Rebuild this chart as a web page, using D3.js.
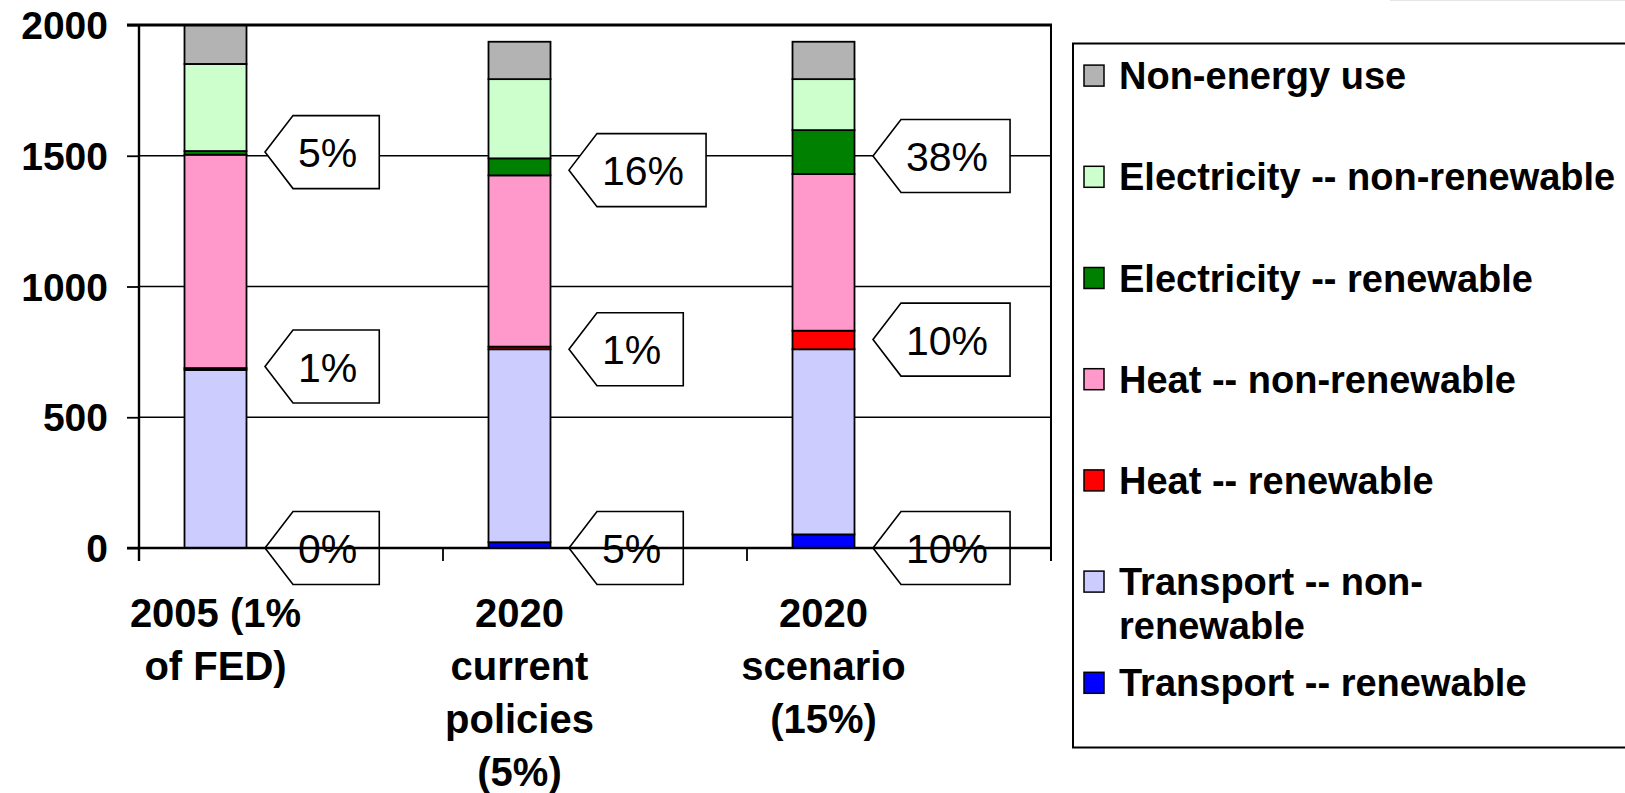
<!DOCTYPE html>
<html>
<head>
<meta charset="utf-8">
<script src="https://cdnjs.cloudflare.com/ajax/libs/d3/7.8.5/d3.min.js"></script>
<style>
body { margin: 0; background: #fff; }
text { font-family: "Liberation Sans", Arial, sans-serif; }
</style>
</head>
<body>
<div id="chart"></div>
<script>
// Data
var categories = ["2005 (1% of FED)", "2020 current policies (5%)", "2020 scenario (15%)"];
var categoryLines = [["2005 (1%", "of FED)"], ["2020", "current", "policies", "(5%)"], ["2020", "scenario", "(15%)"]];

var transportRen    = [0, 22, 52];
var transportNonRen = [681, 738, 708];
var heatRen         = [7, 10, 71];
var heatNonRen      = [816, 655, 599];
var elecRen         = [14, 65, 168];
var elecNonRen      = [333, 303, 195];
var nonEnergy       = [149, 143, 143];

var yTicks = [0, 500, 1000, 1500, 2000];

// renewable share callouts: transport, heat, electricity
var shareLabels = [["0%", "1%", "5%"], ["5%", "1%", "16%"], ["10%", "10%", "38%"]];
var shareAt     = [[0, 694, 1514], [0, 760, 1445], [0, 797, 1499]];

// series, bottom to top of the stack
var series = [
    {key: "tr",  name: "Transport -- renewable",     values: transportRen,    color: "#0000ff"},
    {key: "tnr", name: "Transport -- non-renewable", values: transportNonRen, color: "#ccccff"},
    {key: "hr",  name: "Heat -- renewable",          values: heatRen,         color: "#ff0000"},
    {key: "hnr", name: "Heat -- non-renewable",      values: heatNonRen,      color: "#ff99cc"},
    {key: "er",  name: "Electricity -- renewable",   values: elecRen,         color: "#008000"},
    {key: "enr", name: "Electricity -- non-renewable", values: elecNonRen,    color: "#ccffcc"},
    {key: "ne",  name: "Non-energy use",             values: nonEnergy,       color: "#b3b3b3"}
];

var width = 1625, height = 793;

var svg = d3.select("#chart").append("svg")
    .attr("width", width)
    .attr("height", height);

// table for d3.stack
var table = categories.map(function(c, i) {
    var row = {cat: c};
    series.forEach(function(s) { row[s.key] = s.values[i]; });
    return row;
});
var stacked = d3.stack().keys(series.map(function(s) { return s.key; }))(table);

var x = d3.scaleBand().domain(categories).range([139, 1051]).padding(0);
var y = d3.scaleLinear().domain([0, 2000]).range([548, 25]);

var barOffset = 45.5, barWidth = 62;

// gridlines
svg.append("g").selectAll("line")
    .data(yTicks.filter(function(d) { return d > 0 && d < 2000; }))
    .enter().append("line")
    .attr("x1", 139).attr("x2", 1051)
    .attr("y1", function(d) { return y(d); })
    .attr("y2", function(d) { return y(d); })
    .attr("stroke", "#000").attr("stroke-width", 1.6);

// bars
svg.append("g").selectAll("g")
    .data(stacked)
    .enter().append("g")
    .attr("fill", function(d, i) { return series[i].color; })
    .selectAll("rect")
    .data(function(d) { return d; })
    .enter().append("rect")
    .attr("x", function(d) { return x(d.data.cat) + barOffset; })
    .attr("width", barWidth)
    .attr("y", function(d) { return y(d[1]); })
    .attr("height", function(d) { return y(d[0]) - y(d[1]); })
    .attr("stroke", "#000")
    .attr("stroke-width", 1.8);

// callouts
var callouts = [];
categories.forEach(function(c, i) {
    shareLabels[i].forEach(function(lab, j) {
        callouts.push({cat: c, label: lab, value: shareAt[i][j]});
    });
});

var cg = svg.append("g").selectAll("g")
    .data(callouts)
    .enter().append("g");

cg.each(function(d) {
    var g = d3.select(this);
    var px = x(d.cat) + 126, py = y(d.value);
    var path = g.append("path");
    var t = g.append("text")
        .attr("x", px + 33)
        .attr("y", py + 15)
        .attr("font-size", 41)
        .attr("fill", "#000")
        .text(d.label);
    var w = t.node().getComputedTextLength();
    var r = px + 33 + w + 22, h = 36.5, dep = 28;
    path.attr("d", "M" + px + "," + py + "L" + (px + dep) + "," + (py - h) +
              "L" + r + "," + (py - h) + "L" + r + "," + (py + h) +
              "L" + (px + dep) + "," + (py + h) + "Z")
        .attr("fill", "#fff").attr("stroke", "#000").attr("stroke-width", 1.6);
});

// axes and plot border
svg.append("line").attr("x1", 127).attr("x2", 1052).attr("y1", y(2000)).attr("y2", y(2000))
    .attr("stroke", "#000").attr("stroke-width", 3);
svg.append("line").attr("x1", 1051).attr("x2", 1051).attr("y1", y(2000)).attr("y2", 561)
    .attr("stroke", "#000").attr("stroke-width", 2);

var yAxis = svg.append("g")
    .attr("transform", "translate(139,0)")
    .call(d3.axisLeft(y).tickValues(yTicks).tickSize(12).tickFormat(""));
yAxis.select(".domain").remove();
yAxis.selectAll("line").attr("stroke", "#000").attr("stroke-width", 1.8);

svg.append("line").attr("x1", 139).attr("x2", 139).attr("y1", y(2000)).attr("y2", 561)
    .attr("stroke", "#000").attr("stroke-width", 2.4);
svg.append("line").attr("x1", 127).attr("x2", 1051).attr("y1", y(0)).attr("y2", y(0))
    .attr("stroke", "#000").attr("stroke-width", 2.4);

// category ticks below the axis
var bounds = categories.map(function(c) { return x(c); }).concat([x.range()[1]]);
svg.append("g").selectAll("line")
    .data(bounds)
    .enter().append("line")
    .attr("x1", function(d) { return d; }).attr("x2", function(d) { return d; })
    .attr("y1", y(0)).attr("y2", 561)
    .attr("stroke", "#000").attr("stroke-width", 1.8);

// y tick labels
svg.append("g").selectAll("text")
    .data(yTicks)
    .enter().append("text")
    .attr("x", 108)
    .attr("y", function(d) { return y(d) + 14; })
    .attr("text-anchor", "end")
    .attr("font-size", 39)
    .attr("font-weight", "bold")
    .text(function(d) { return d; });

// category labels
svg.append("g").selectAll("text")
    .data(categories)
    .enter().append("text")
    .attr("text-anchor", "middle")
    .attr("font-size", 40)
    .attr("font-weight", "bold")
    .each(function(c, i) {
        var cx = x(c) + barOffset + barWidth / 2;
        d3.select(this).selectAll("tspan")
            .data(categoryLines[i])
            .enter().append("tspan")
            .attr("x", cx)
            .attr("y", function(d, k) { return 627 + k * 53; })
            .text(function(d) { return d; });
    });

// legend
svg.append("rect")
    .attr("x", 1073).attr("y", 43.5)
    .attr("width", 700).attr("height", 704)
    .attr("fill", "#fff").attr("stroke", "#000").attr("stroke-width", 2);

var legendItems = series.slice().reverse();
var legendLines = {"tnr": ["Transport -- non-", "renewable"]};
var lg = svg.append("g").selectAll("g")
    .data(legendItems)
    .enter().append("g")
    .attr("transform", function(d, i) { return "translate(1084," + (75.6 + i * 101.2) + ")"; });

lg.append("rect")
    .attr("x", 0).attr("y", -10.5)
    .attr("width", 20).attr("height", 21)
    .attr("fill", function(d) { return d.color; })
    .attr("stroke", "#000").attr("stroke-width", 1.5);

lg.append("text")
    .attr("font-size", 38)
    .attr("font-weight", "bold")
    .each(function(d) {
        var lines = legendLines[d.key] || [d.name];
        d3.select(this).selectAll("tspan")
            .data(lines)
            .enter().append("tspan")
            .attr("x", 35)
            .attr("y", function(l, k) { return 13.5 + k * 44; })
            .text(function(l) { return l; });
    });

// faint edge at top right
svg.append("line").attr("x1", 1390).attr("x2", 1625).attr("y1", 0.5).attr("y2", 0.5)
    .attr("stroke", "#e6e6e6").attr("stroke-width", 1);
</script>
</body>
</html>
